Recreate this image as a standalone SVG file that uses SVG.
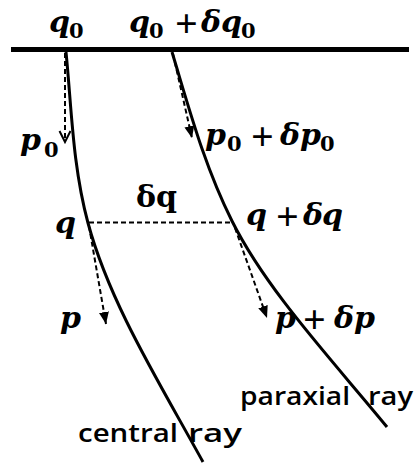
<svg xmlns="http://www.w3.org/2000/svg" width="416" height="464" viewBox="0 0 416 464">
<style>
.m{font-family:"DejaVu Serif","Liberation Serif",serif;font-weight:bold;font-style:italic;font-size:30px;fill:#000}
.up{font-style:normal}
.pl{font-family:"Liberation Serif",serif;font-style:normal;font-weight:bold;font-size:40px}
.sub{font-style:normal;font-size:21px}
.lbl{font-family:"Open Sans","Noto Sans",sans-serif;font-size:26px;font-weight:600;fill:#000}
.ray{fill:none;stroke:#000;stroke-width:3}
.dash{fill:none;stroke:#000;stroke-width:2;stroke-dasharray:5 3}
</style>
<defs>
<marker id="fa" markerWidth="12" markerHeight="10" refX="12" refY="5" orient="auto" markerUnits="userSpaceOnUse">
<path d="M0,0 L12,5 L0,10 z" fill="#000"/>
</marker>
<marker id="oa" markerWidth="14" markerHeight="14" refX="12" refY="6" orient="auto" markerUnits="userSpaceOnUse">
<path d="M1,0.5 L12,6 L1,11.5" fill="none" stroke="#000" stroke-width="2"/>
</marker>
</defs>
<g id="surface">
<line x1="11" y1="49.5" x2="409" y2="49.5" stroke="#000" stroke-width="5"/>
</g>
<g id="connectors">
<path id="central-ray" class="ray" d="M66,52 C71.7,109 72.6,166 88,223 C109.6,303 159,382 203,462"/>
<path id="paraxial-ray" class="ray" d="M172,52 C189,108 204,165 232,221 C266.5,290 330.4,358 387,427"/>
<line class="dash" x1="65" y1="53" x2="65" y2="142" marker-end="url(#oa)"/>
<line class="dash" x1="173" y1="54" x2="192" y2="138" marker-end="url(#fa)"/>
<line class="dash" x1="89" y1="222.5" x2="233" y2="222.5"/>
<line class="dash" x1="89" y1="226" x2="106" y2="324" marker-end="url(#fa)"/>
<line class="dash" x1="235" y1="228" x2="267" y2="318" marker-end="url(#fa)"/>
</g>
<g id="labels">
<text class="m" x="49" y="32">q<tspan class="sub" x="69" y="38">0</tspan></text>
<text class="m" x="129" y="32">q<tspan class="sub" x="149" y="38">0</tspan><tspan class="pl" x="175" y="37">+</tspan><tspan x="201" y="32">δ</tspan><tspan x="221" y="32">q</tspan><tspan class="sub" x="241" y="38">0</tspan></text>
<text class="m" x="20" y="150">p<tspan class="sub" x="44" y="157">0</tspan></text>
<text class="m" x="205" y="145">p<tspan class="sub" x="227" y="151">0</tspan><tspan class="pl" x="251" y="150">+</tspan><tspan x="280" y="145">δ</tspan><tspan x="300" y="145">p</tspan><tspan class="sub" x="320" y="151">0</tspan></text>
<text class="m" x="55" y="233">q</text>
<text class="m up" x="136" y="207">δq</text>
<text class="m" x="246" y="225">q<tspan class="pl" x="276" y="230">+</tspan><tspan x="303" y="225">δ</tspan><tspan x="322" y="225">q</tspan></text>
<text class="m" x="60" y="328">p</text>
<text class="m" x="275" y="328">p<tspan class="pl" x="303" y="333">+</tspan><tspan x="334" y="328">δ</tspan><tspan x="354" y="328">p</tspan></text>
<text class="lbl" x="240" y="405"><tspan textLength="110" lengthAdjust="spacingAndGlyphs">paraxial</tspan> <tspan x="368" textLength="45" lengthAdjust="spacingAndGlyphs">ray</tspan></text>
<text class="lbl" x="78" y="442"><tspan textLength="100" lengthAdjust="spacingAndGlyphs">central</tspan> <tspan x="188" textLength="54" lengthAdjust="spacingAndGlyphs">ray</tspan></text>
</g>
</svg>
